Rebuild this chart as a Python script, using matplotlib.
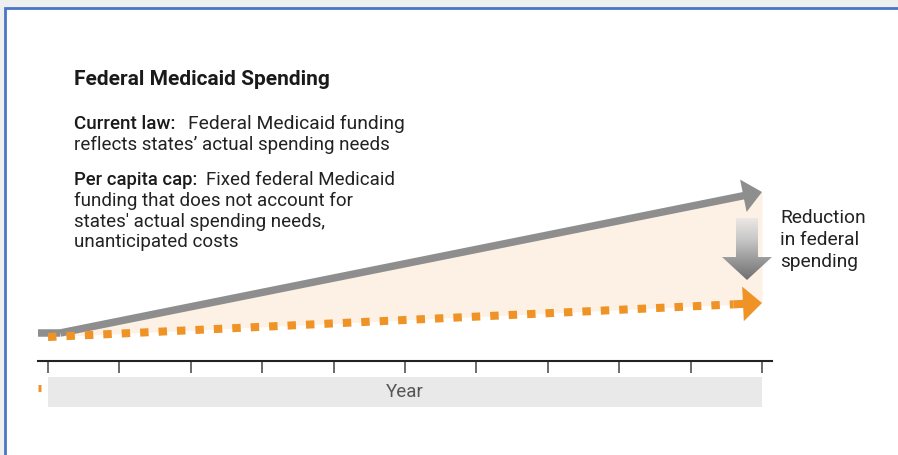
import matplotlib
matplotlib.use("Agg")
import matplotlib.pyplot as plt
import numpy as np
from matplotlib.patches import Rectangle, Polygon, FancyArrowPatch
from matplotlib.colors import LinearSegmentedColormap

plt.rcParams['font.family'] = ['Roboto', 'DejaVu Sans']

# data (spending index, arbitrary units)
years = np.arange(0, 11)
current_years = [-0.14, 0.17, 10]
current_law = [28, 28, 169]
cap_years = [0, 10]
per_capita_cap = [24, 58]

title = "Federal Medicaid Spending"
current_head = "Current law:"
current_text = ["Federal Medicaid funding", "reflects states\u2019 actual spending needs"]
cap_head = "Per capita cap:"
cap_text = ["Fixed federal Medicaid", "funding that does not account for",
            "states' actual spending needs,", "unanticipated costs"]
reduction_text = "Reduction\nin federal\nspending"

W, H = 898, 455
fig = plt.figure(figsize=(W / 100, H / 100), dpi=100)
fig.patch.set_facecolor('#eef0f0')
fig.add_artist(Rectangle((5 / W, -0.1), 1.2, 1.1 - 8.5 / H, transform=fig.transFigure,
                         facecolor='white', edgecolor='#4a76c6', lw=2, zorder=-10))

ax = fig.add_axes([38 / W, 1 - 410 / H, 734 / W, 240 / H])
ax.set_facecolor('none')
px_per_year = 734 / 10.28

gray = '#8e8e8e'
orange = '#ef9326'

# shaded gap
xf = np.linspace(current_years[1], current_years[-1], 200)
ax.fill_between(xf, np.interp(xf, cap_years, per_capita_cap),
                np.interp(xf, current_years, current_law),
                color='#fcf1e4', lw=0, zorder=1)

# current law line + arrow
ax.plot(current_years[:2], current_law[:2], color=gray, lw=5.4, solid_capstyle='butt', zorder=3)
ax.add_patch(FancyArrowPatch((current_years[1], current_law[1]), (current_years[2], current_law[2]),
                             arrowstyle='simple,head_length=13.7,head_width=23.8,tail_width=5.4',
                             mutation_scale=1, color=gray, lw=0, shrinkA=0, shrinkB=0, zorder=3))

# per capita cap dashed line + arrow head
hx = 9.6
hy = np.interp(hx, cap_years, per_capita_cap)
ax.plot([cap_years[0], hx], [per_capita_cap[0], hy], color=orange, lw=5.8,
        dashes=(1.05, 1.24), dash_capstyle='butt', zorder=4)
ax.add_patch(FancyArrowPatch((hx, hy), (cap_years[1], per_capita_cap[1]),
                             arrowstyle='simple,head_length=13.7,head_width=25,tail_width=5.8',
                             mutation_scale=1, color=orange, lw=0, shrinkA=0, shrinkB=0, zorder=4))

# gradient down arrow
cx = (747 - 38) / px_per_year - 0.14
sw, hw = 11 / px_per_year, 25 / px_per_year
top, base, tip = 143, 104, 81
arrow = Polygon([(cx - sw, top), (cx + sw, top), (cx + sw, base), (cx + hw, base),
                 (cx, tip), (cx - hw, base), (cx - sw, base)], closed=True,
                facecolor='none', edgecolor='none', zorder=5)
ax.add_patch(arrow)
cmap = LinearSegmentedColormap.from_list('g', ['#6f6f6f', '#9a9a9a', '#c9c9c9', '#ece8e3'])
grad = np.linspace(0, 1, 256).reshape(-1, 1)
im = ax.imshow(grad, cmap=cmap, origin='lower', aspect='auto',
               extent=(cx - hw, cx + hw, tip, top), zorder=5)
im.set_clip_path(arrow)

# year band
ax.add_patch(Rectangle((0, -46), 10, 30, facecolor='#e9e9e9', edgecolor='none', zorder=1))
ax.text(5, -31, "Year", ha='center', va='center', fontsize=13.5, color='#555555')

# small orange mark at left
ax.plot([-0.14, -0.095], [-27, -27], color=orange, lw=5, solid_capstyle='butt', clip_on=False)

# axis
for s in ['left', 'right', 'top']:
    ax.spines[s].set_visible(False)
ax.spines['bottom'].set_position(('data', 0))
ax.spines['bottom'].set_linewidth(1.5)
ax.spines['bottom'].set_color('#222222')
ax.set_xticks(years)
ax.set_yticks([])
ax.tick_params(axis='x', direction='out', length=8.6, width=1.1, color='#444444', labelbottom=False)
ax.set_xlim(-0.14, 10.14)
ax.set_ylim(-49, 191)

# texts
def ftext(x, y, s, **kw):
    return fig.text(x / W, 1 - y / H, s, va='baseline', **kw)

ftext(74, 85, title, fontsize=15, fontweight='bold', color='#1a1a1a')
fs = 13.5
t = ftext(74, 129, current_head, fontsize=fs, fontweight='medium', color='#1a1a1a')
ax.annotate(current_text[0], xy=(1, 0), xycoords=t, xytext=(9, 0), textcoords='offset points',
            va='bottom', fontsize=13.9, color='#222222', annotation_clip=False, zorder=10)
ftext(74, 150, current_text[1], fontsize=fs, color='#222222')
t = ftext(74, 185, cap_head, fontsize=13.2, fontweight='medium', color='#1a1a1a')
ax.annotate(cap_text[0], xy=(1, 0), xycoords=t, xytext=(6, 0), textcoords='offset points',
            va='bottom', fontsize=fs, color='#222222', annotation_clip=False, zorder=10)
for i, line in enumerate(cap_text[1:]):
    ftext(74, 206 + 20.7 * i, line, fontsize=fs, color='#222222')

fig.text(780 / W, 1 - 209 / H, reduction_text, va='top', ha='left', fontsize=13.8,
         color='#222222', linespacing=1.3)

fig.savefig('out.png', dpi=100, facecolor=fig.get_facecolor())
